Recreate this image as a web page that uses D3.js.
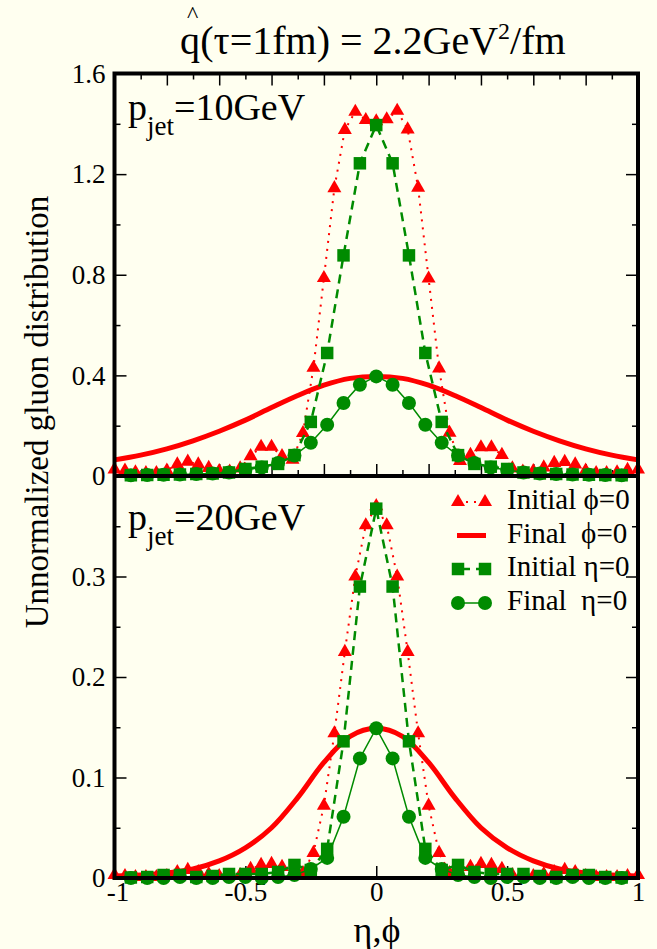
<!DOCTYPE html>
<html>
<head>
<meta charset="utf-8">
<script src="https://cdn.jsdelivr.net/npm/d3@7"></script>
<style>
  body { margin: 0; background: #fffff0; }
  svg { display: block; }
  text { font-family: "Liberation Serif", "Times New Roman", serif; fill: #000; }
</style>
</head>
<body>
<div class="chart"></div>
<script>
// grids along eta / phi
let xTri = [-1, -0.96, -0.92, -0.88, -0.84, -0.8, -0.76, -0.72, -0.68, -0.64, -0.6, -0.56, -0.52,
  -0.48, -0.44, -0.4, -0.36, -0.32, -0.28, -0.24, -0.2, -0.16, -0.12, -0.08, -0.04, 0,
  0.04, 0.08, 0.12, 0.16, 0.2, 0.24, 0.28, 0.32, 0.36, 0.4, 0.44, 0.48, 0.52, 0.56, 0.6,
  0.64, 0.68, 0.72, 0.76, 0.8, 0.84, 0.88, 0.92, 0.96, 1];
let xGrid = [-0.9375, -0.875, -0.8125, -0.75, -0.6875, -0.625, -0.5625, -0.5, -0.4375, -0.375,
  -0.3125, -0.25, -0.1875, -0.125, -0.0625, 0, 0.0625, 0.125, 0.1875, 0.25, 0.3125, 0.375,
  0.4375, 0.5, 0.5625, 0.625, 0.6875, 0.75, 0.8125, 0.875, 0.9375];
let xSmooth = [-1, -0.9, -0.8, -0.7, -0.6, -0.5, -0.4, -0.3, -0.2, -0.1, 0,
  0.1, 0.2, 0.3, 0.4, 0.5, 0.6, 0.7, 0.8, 0.9, 1];

// p_jet = 10 GeV
let topInitPhi = [0.026, 0.022, 0.015, 0.012, 0.012, 0.022, 0.046, 0.057, 0.046, 0.032, 0.020, 0.018, 0.030,
  0.079, 0.116, 0.116, 0.079, 0.065, 0.171, 0.430, 0.787, 1.144, 1.376, 1.448, 1.415, 1.410,
  1.418, 1.452, 1.378, 1.146, 0.785, 0.428, 0.172, 0.060, 0.084, 0.114, 0.114, 0.084, 0.030, 0.018, 0.020,
  0.034, 0.052, 0.056, 0.046, 0.022, 0.012, 0.012, 0.015, 0.024, 0.026];
let topFinalPhi = [0.064, 0.083, 0.108, 0.140, 0.178, 0.222, 0.272, 0.320, 0.361, 0.388, 0.396,
  0.388, 0.361, 0.320, 0.272, 0.222, 0.178, 0.140, 0.108, 0.083, 0.064];
let topInitEta = [0.003, 0.004, 0.005, 0.006, 0.008, 0.010, 0.014, 0.028, 0.037, 0.048,
  0.083, 0.215, 0.489, 0.877, 1.243, 1.395, 1.243, 0.877, 0.489, 0.215, 0.083,
  0.048, 0.037, 0.028, 0.014, 0.010, 0.008, 0.006, 0.005, 0.004, 0.003];
let topFinalEta = [0.003, 0.004, 0.005, 0.006, 0.008, 0.010, 0.014, 0.024, 0.034, 0.052,
  0.081, 0.132, 0.204, 0.290, 0.363, 0.396, 0.363, 0.290, 0.204, 0.132, 0.081,
  0.052, 0.034, 0.024, 0.014, 0.010, 0.008, 0.006, 0.005, 0.004, 0.003];

// p_jet = 20 GeV
let botInitPhi = [0.003, 0.002, 0.001, 0.001, 0.001, 0.002, 0.006, 0.008, 0.006, 0.004, 0.002, 0.002, 0.003,
  0.009, 0.013, 0.014, 0.011, 0.004, 0.005, 0.025, 0.072, 0.144, 0.225, 0.300, 0.351, 0.370,
  0.351, 0.300, 0.225, 0.144, 0.072, 0.025, 0.005, 0.004, 0.011, 0.014, 0.013, 0.009, 0.003, 0.002, 0.002,
  0.004, 0.006, 0.008, 0.006, 0.002, 0.001, 0.001, 0.001, 0.002, 0.003];
let botFinalPhi = [0.002, 0.003, 0.005, 0.009, 0.017, 0.030, 0.050, 0.080, 0.115, 0.141, 0.149,
  0.141, 0.115, 0.080, 0.050, 0.030, 0.017, 0.009, 0.005, 0.003, 0.002];
let botInitEta = [0.0005, 0.001, 0.003, 0.003, 0.001, 0.002, 0.004, 0.004, 0.004, 0.006,
  0.013, 0.008, 0.029, 0.136, 0.290, 0.3675, 0.290, 0.136, 0.029, 0.008, 0.013,
  0.006, 0.004, 0.004, 0.004, 0.002, 0.001, 0.003, 0.003, 0.001, 0.0005];
let botFinalEta = [0, 0, 0, 0.001, 0, 0, 0.001, 0.001, 0, 0.001,
  0.003, 0.009, 0.020, 0.061, 0.119, 0.149, 0.119, 0.061, 0.020, 0.009, 0.003,
  0.001, 0, 0.001, 0.001, 0, 0, 0.001, 0, 0, 0];

// ticks and labels
let topYMajor = [0, 0.4, 0.8, 1.2, 1.6];
let topYMinor = [0.2, 0.6, 1.0, 1.4];
let botYMajor = [0, 0.1, 0.2, 0.3, 0.4];
let botYMinor = [0.05, 0.15, 0.25, 0.35];
let topXMajor = [-0.8, -0.6, -0.4, -0.2, 0, 0.2, 0.4, 0.6, 0.8];
let topXMinor = [-0.9, -0.7, -0.5, -0.3, -0.1, 0.1, 0.3, 0.5, 0.7, 0.9];
let botXMajor = [-1, -0.5, 0, 0.5, 1];
let botXMinor = [-0.75, -0.25, 0.25, 0.75];
let legendNames = ["Initial \u03d5=0", "Final  \u03d5=0", "Initial \u03b7=0", "Final  \u03b7=0"];

let svgWidth = 657;
let svgHeight = 949;
let red = "#ff0000";
let green = "#008b00";
let serif = "'Liberation Serif', 'Times New Roman', serif";

let svg = d3.select(".chart")
  .append("svg")
  .attr("width", svgWidth)
  .attr("height", svgHeight);

svg.append("rect")
  .attr("width", svgWidth)
  .attr("height", svgHeight)
  .attr("fill", "#fffff0");

let plotLeft = 114.5, plotRight = 638, plotTop = 73.5, plotMid = 476, plotBottom = 878;

let x = d3.scaleLinear().domain([-1, 1]).range([plotLeft, plotRight]);
let yTop = d3.scaleLinear().domain([0, 1.6]).range([plotMid, plotTop]);
let yBot = d3.scaleLinear().domain([0, 0.4]).range([plotBottom, plotMid]);

function ticks(axis, values, size, at, labels, pad) {
  let g = svg.append("g")
    .attr("transform", at)
    .call(axis.tickValues(values).tickSize(size).tickPadding(pad || 8)
      .tickFormat(labels ? (d => String(d)) : ""));
  g.select(".domain").remove();
  g.selectAll("line").attr("stroke", "#000").attr("stroke-width", 1.5);
  g.selectAll("text").attr("font-size", 27).attr("font-family", serif).attr("fill", "#000");
  return g;
}

// top panel axes
ticks(d3.axisTop(x), topXMajor, -12, `translate(0,${plotTop})`, false);
ticks(d3.axisTop(x), topXMinor, -6, `translate(0,${plotTop})`, false);
ticks(d3.axisBottom(x), topXMajor, -12, `translate(0,${plotMid})`, false);
ticks(d3.axisBottom(x), topXMinor, -6, `translate(0,${plotMid})`, false);
ticks(d3.axisLeft(yTop), topYMajor, -12, `translate(${plotLeft},0)`, true, 9);
ticks(d3.axisLeft(yTop), topYMinor, -6, `translate(${plotLeft},0)`, false);
ticks(d3.axisRight(yTop), topYMajor, -12, `translate(${plotRight},0)`, false);
ticks(d3.axisRight(yTop), topYMinor, -6, `translate(${plotRight},0)`, false);

// bottom panel axes
let bx = ticks(d3.axisBottom(x), botXMajor, -12, `translate(0,${plotBottom})`, true, 5);
bx.selectAll("text").attr("dy", "0.68em").attr("dx", d => d === -1 ? 3 : 0);
ticks(d3.axisBottom(x), botXMinor, -6, `translate(0,${plotBottom})`, false);
let byl = ticks(d3.axisLeft(yBot), botYMajor, -12, `translate(${plotLeft},0)`, true, 9);
byl.selectAll("text").filter(d => d === 0.4).remove();
ticks(d3.axisLeft(yBot), botYMinor, -6, `translate(${plotLeft},0)`, false);
ticks(d3.axisRight(yBot), botYMajor, -12, `translate(${plotRight},0)`, false);
ticks(d3.axisRight(yBot), botYMinor, -6, `translate(${plotRight},0)`, false);

function drawPanel(y, initPhi, finalPhi, initEta, finalEta) {
  let g = svg.append("g");
  let tri = xTri.map((d, i) => [d, initPhi[i]]);
  let smooth = xSmooth.map((d, i) => [d, finalPhi[i]]);
  let sq = xGrid.map((d, i) => [d, initEta[i]]);
  let circ = xGrid.map((d, i) => [d, finalEta[i]]);

  let line = d3.line().x(d => x(d[0])).y(d => y(d[1]));

  g.append("path").datum(smooth)
    .attr("d", line.curve(d3.curveCatmullRom))
    .attr("fill", "none").attr("stroke", red).attr("stroke-width", 5);
  line.curve(d3.curveLinear);

  g.append("path").datum(tri)
    .attr("d", line)
    .attr("fill", "none").attr("stroke", red).attr("stroke-width", 2)
    .attr("stroke-dasharray", "2,6");
  g.selectAll(".tri").data(tri).enter().append("path")
    .attr("transform", d => `translate(${x(d[0])},${y(d[1])})`)
    .attr("d", d3.symbol(d3.symbolTriangle, 85))
    .attr("fill", red);

  g.append("path").datum(sq)
    .attr("d", line)
    .attr("fill", "none").attr("stroke", green).attr("stroke-width", 2.5)
    .attr("stroke-dasharray", "9,6");
  g.selectAll(".sq").data(sq).enter().append("path")
    .attr("transform", d => `translate(${x(d[0])},${y(d[1])})`)
    .attr("d", d3.symbol(d3.symbolSquare, 156))
    .attr("fill", green);

  g.append("path").datum(circ)
    .attr("d", line)
    .attr("fill", "none").attr("stroke", green).attr("stroke-width", 1.5);
  g.selectAll(".circ").data(circ).enter().append("circle")
    .attr("cx", d => x(d[0]))
    .attr("cy", d => y(d[1]))
    .attr("r", 7)
    .attr("fill", green);
}

drawPanel(yTop, topInitPhi, topFinalPhi, topInitEta, topFinalEta);
drawPanel(yBot, botInitPhi, botFinalPhi, botInitEta, botFinalEta);

// frame
svg.append("rect")
  .attr("x", plotLeft).attr("y", plotTop)
  .attr("width", plotRight - plotLeft).attr("height", plotBottom - plotTop)
  .attr("fill", "none").attr("stroke", "#000").attr("stroke-width", 4);
svg.append("line")
  .attr("x1", plotLeft).attr("x2", plotRight).attr("y1", plotMid).attr("y2", plotMid)
  .attr("stroke", "#000").attr("stroke-width", 4);

// legend
let legend = svg.append("g");
let rowY = [502, 535.5, 569, 603];
let lx1 = 458, lx2 = 485;
legendNames.forEach(function(name, i) {
  let cy = rowY[i];
  let row = legend.append("g");
  if (i === 0) {
    row.append("line").attr("x1", lx1).attr("x2", lx2).attr("y1", cy).attr("y2", cy)
      .attr("stroke", red).attr("stroke-width", 2).attr("stroke-dasharray", "2,6");
    [lx1, lx2].forEach(px => row.append("path")
      .attr("transform", `translate(${px},${cy})`)
      .attr("d", d3.symbol(d3.symbolTriangle, 85)).attr("fill", red));
  } else if (i === 1) {
    row.append("line").attr("x1", lx1 - 1).attr("x2", lx2 + 1).attr("y1", cy).attr("y2", cy)
      .attr("stroke", red).attr("stroke-width", 5);
  } else if (i === 2) {
    row.append("line").attr("x1", lx1).attr("x2", lx2).attr("y1", cy).attr("y2", cy)
      .attr("stroke", green).attr("stroke-width", 2.5).attr("stroke-dasharray", "9,6")
      .attr("stroke-dashoffset", -3);
    [lx1, lx2].forEach(px => row.append("path")
      .attr("transform", `translate(${px},${cy})`)
      .attr("d", d3.symbol(d3.symbolSquare, 156)).attr("fill", green));
  } else {
    row.append("line").attr("x1", lx1).attr("x2", lx2).attr("y1", cy).attr("y2", cy)
      .attr("stroke", green).attr("stroke-width", 1.5);
    [lx1, lx2].forEach(px => row.append("circle")
      .attr("cx", px).attr("cy", cy).attr("r", 7).attr("fill", green));
  }
  row.append("text")
    .attr("x", 507).attr("y", cy + 7)
    .attr("font-size", 29)
    .style("white-space", "pre")
    .text(name);
});

// panel labels
function pjet(yBase, val) {
  let t = svg.append("text").attr("x", 128).attr("y", yBase).attr("font-size", 38);
  t.append("tspan").text("p");
  t.append("tspan").attr("font-size", 27).attr("dy", 15).text("jet");
  t.append("tspan").attr("dy", -15).text("=" + val + "GeV");
}
pjet(120, 10);
pjet(530, 20);

// title, hat placed over the q inside the same text
let title = svg.append("text").attr("x", 180).attr("y", 54).attr("font-size", 40);
title.append("tspan").text("q");
title.append("tspan").attr("font-size", 24).attr("dx", -13).attr("dy", -32).text("^");
title.append("tspan").attr("dx", 2).attr("dy", 32).text("(\u03c4=1fm) = 2.2GeV");
title.append("tspan").attr("font-size", 24).attr("dy", -15).text("2");
title.append("tspan").attr("dy", 15).text("/fm");

// axis labels
svg.append("text")
  .attr("x", 377).attr("y", 942)
  .attr("text-anchor", "middle")
  .attr("font-size", 36)
  .text("\u03b7,\u03d5");

svg.append("text")
  .attr("transform", "translate(48,412) rotate(-90)")
  .attr("text-anchor", "middle")
  .attr("font-size", 33)
  .text("Unnormalized gluon distribution");
</script>
</body>
</html>
